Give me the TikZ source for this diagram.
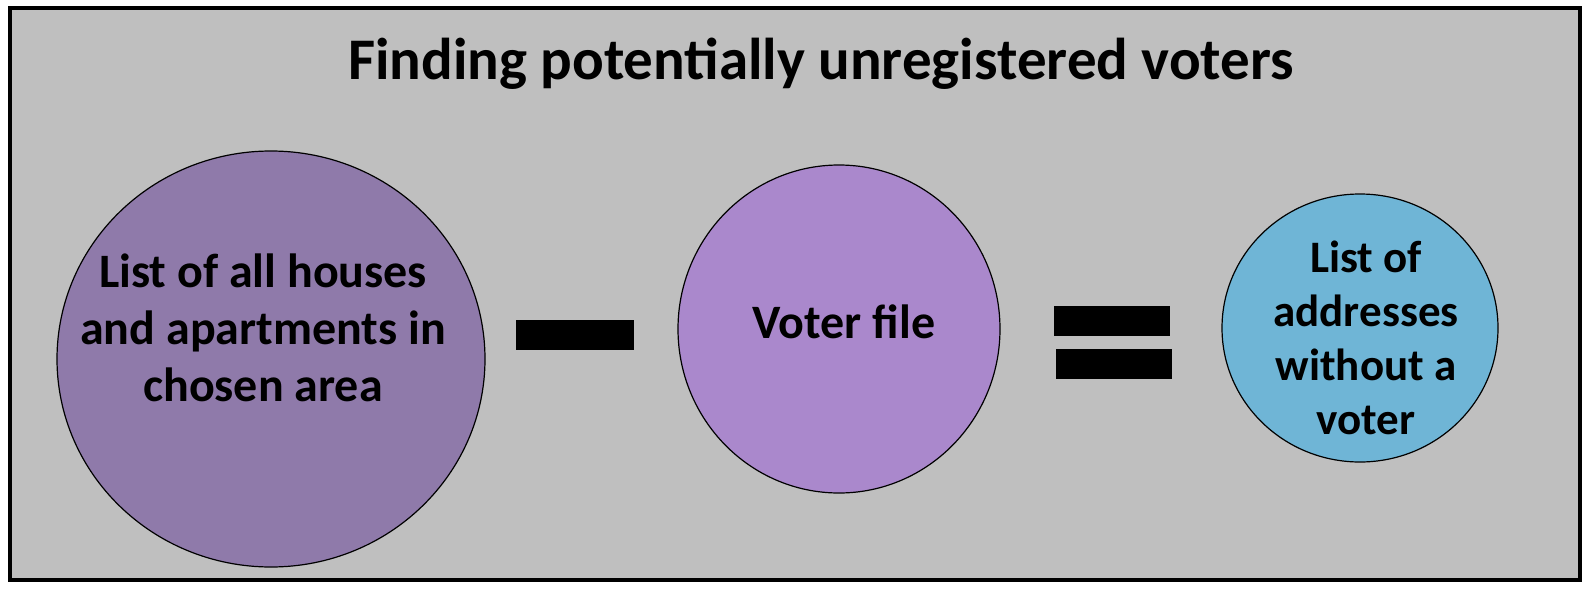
\documentclass[tikz,border=0pt]{standalone}
\usepackage{fontspec}
\setmainfont{Carlito}
\begin{document}
\begin{tikzpicture}[x=1pt,y=-1pt,
  lbl/.style={font=\bfseries\fontsize{48}{57}\selectfont,align=center,text=black},
  bar/.style={fill=black}]
\useasboundingbox (0,0) rectangle (1590,592);
\fill[white] (0,0) rectangle (1590,592);
\draw[line width=4pt,fill={rgb,255:red,191;green,191;blue,191}] (10,8) rectangle (1580,580);
\node[font=\bfseries\fontsize{59}{62}\selectfont] (title) at (821,64) {Finding potentially unregistered voters};
\draw[line width=1.2pt,fill={rgb,255:red,143;green,122;blue,170}] (271,359) ellipse [x radius=214, y radius=208];
\node[lbl] (a) at (263,328) {List of all houses\\and apartments in\\chosen area};
\fill[bar] (516,320) rectangle (634,350);
\draw[line width=1.2pt,fill={rgb,255:red,170;green,136;blue,204}] (839,329) ellipse [x radius=161, y radius=164];
\node[lbl] (b) at (844,322) {Voter file};
\fill[bar] (1054,306) rectangle (1170,336);
\fill[bar] (1056,349) rectangle (1172,379);
\draw[line width=1.2pt,fill={rgb,255:red,111;green,181;blue,214}] (1360,328) ellipse [x radius=138, y radius=134];
\node[lbl,font=\bfseries\fontsize{45}{54}\selectfont] (c) at (1366,338) {List of\\addresses\\without a\\voter};
\end{tikzpicture}
\end{document}
